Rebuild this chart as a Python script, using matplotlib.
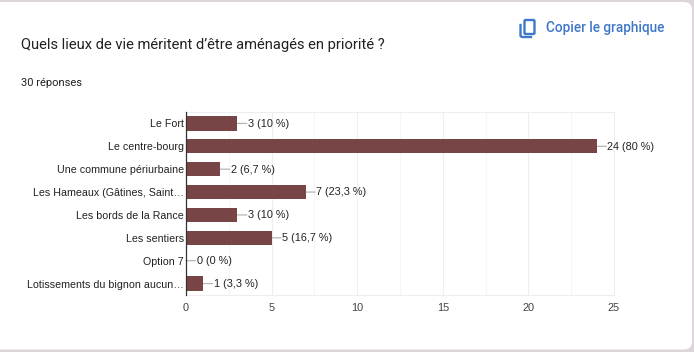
import matplotlib
matplotlib.use("Agg")
import matplotlib.pyplot as plt
from matplotlib.patches import FancyBboxPatch
from matplotlib.lines import Line2D

categories = ["Le Fort", "Le centre-bourg", "Une commune périurbaine",
              "Les Hameaux (Gâtines, Saint…", "Les bords de la Rance",
              "Les sentiers", "Option 7", "Lotissements du bignon aucun…"]
values = [3, 24, 2, 7, 3, 5, 0, 1]
value_labels = ["3 (10 %)", "24 (80 %)", "2 (6,7 %)", "7 (23,3 %)",
                "3 (10 %)", "5 (16,7 %)", "0 (0 %)", "1 (3,3 %)"]
x_ticks = [0, 5, 10, 15, 20, 25]
x_minor = [2.5, 7.5, 12.5, 17.5, 22.5]
title = "Quels lieux de vie méritent d’être aménagés en priorité ?"
subtitle = "30 réponses"
copy_label = "Copier le graphique"

W, H = 694, 352
fig = plt.figure(figsize=(W / 100, H / 100), dpi=100, facecolor="#dcd6da")
bg = fig.add_axes([0, 0, 1, 1], zorder=0)
bg.set_xlim(0, W)
bg.set_ylim(H, 0)
bg.axis("off")
bg.add_patch(FancyBboxPatch((-12, 2), W + 12 - 2, H - 2 - 2.5,
                            boxstyle="round,pad=0,rounding_size=8",
                            fc="white", ec="none"))
bg.text(21, 44.5, title, fontsize=10.65, family="Roboto", color="#202124", va="center", ha="left")
bg.text(21, 82.5, subtitle, fontsize=8.0, family="Roboto", color="#202124", va="center", ha="left")
bg.text(546, 28, copy_label, fontsize=9.85, family="Roboto", color="#3f78c9",
        va="center", ha="left", fontweight="medium")
# copy icon
blue = "#3f78c9"
bg.add_patch(FancyBboxPatch((524.5, 20), 10, 14, boxstyle="round,pad=0,rounding_size=1.2",
                            fc="none", ec=blue, lw=1.7))
bg.add_line(Line2D([520.5, 520.5, 522, 531], [25, 36, 37, 37], color=blue, lw=1.7))

ax = fig.add_axes([186 / W, 1 - 295 / H, (614 - 186) / W, (295 - 112) / H], zorder=1)
ax.patch.set_alpha(0)
ys = list(range(len(categories)))
ax.barh(ys, values, height=0.62, color="#774545", zorder=3)
ax.set_xlim(0, 25)
ax.set_ylim(len(categories) - 0.5, -0.5)
ax.set_yticks(ys)
ax.set_yticklabels(categories, fontsize=7.7, family="Liberation Sans", color="#222222")
ax.set_xticks(x_ticks)
ax.set_xticklabels([str(t) for t in x_ticks], fontsize=7.9, family="Liberation Sans", color="#444444")
ax.set_xticks(x_minor, minor=True)
ax.tick_params(axis="both", which="both", length=0)
ax.tick_params(axis="y", pad=1.5)
ax.tick_params(axis="x", pad=6)
ax.grid(axis="x", which="major", color="#eeeeee", lw=0.8, zorder=0)
ax.grid(axis="x", which="minor", color="#f6f6f6", lw=0.8, zorder=0)
for s in ["top", "right", "bottom"]:
    ax.spines[s].set_visible(True)
    ax.spines[s].set_color("#eeeeee")
    ax.spines[s].set_linewidth(0.8)
ax.spines["left"].set_color("#333333")
ax.spines["left"].set_linewidth(0.9)
ax.spines["left"].set_zorder(5)

for y, v, lab in zip(ys, values, value_labels):
    ax.annotate("", xy=(v, y), xytext=(6.8, 0), textcoords="offset points",
                xycoords="data", arrowprops=dict(arrowstyle="-", color="#b5b5b5", lw=0.9,
                                                 shrinkA=0, shrinkB=0), zorder=2)
    ax.annotate(lab, xy=(v, y), xytext=(7.6, -0.3), textcoords="offset points",
                va="center", ha="left", fontsize=7.8, family="Liberation Sans", color="#222222", zorder=4)

fig.savefig("out.png", dpi=100, facecolor=fig.get_facecolor())
